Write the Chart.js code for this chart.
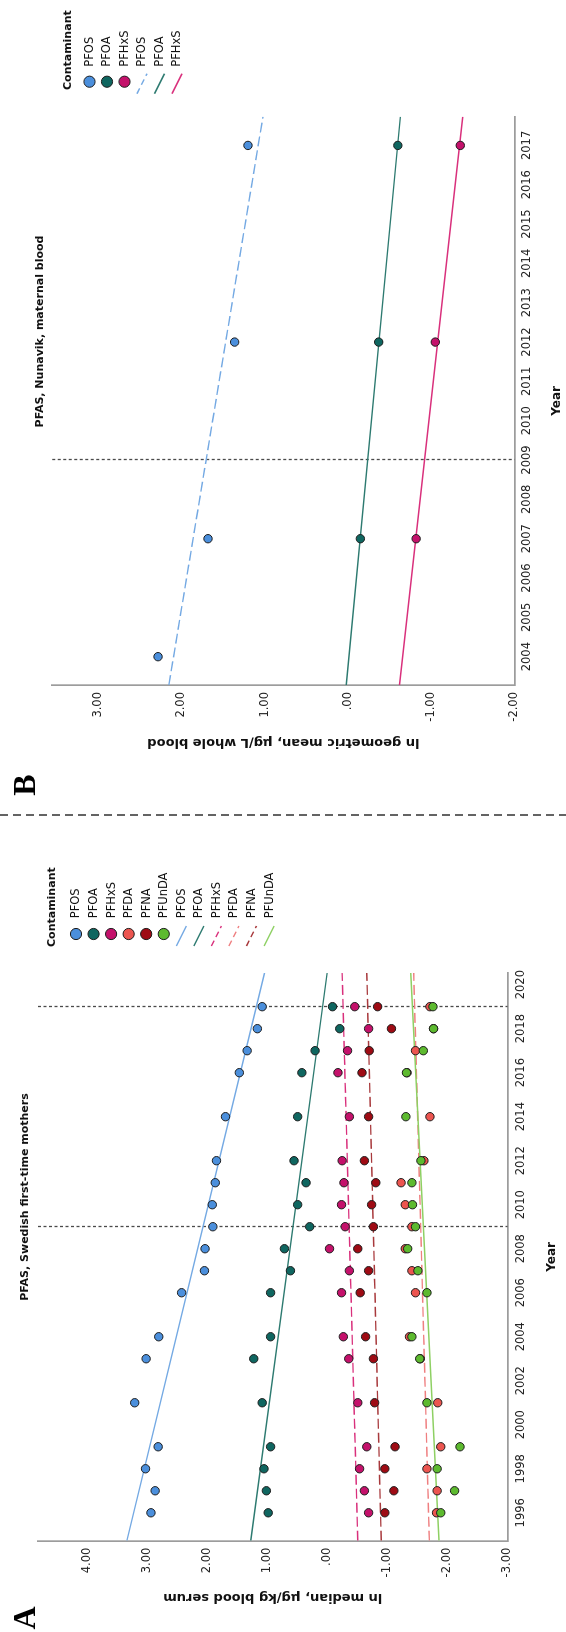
<!DOCTYPE html>
<html>
<head>
<meta charset="utf-8">
<title>PFAS time trends</title>
<script src="https://cdn.jsdelivr.net/npm/chart.js@4.4.1/dist/chart.umd.min.js"></script>
<style>
  html, body { margin: 0; padding: 0; background: #fff; overflow: hidden; }
  /* The figure is laid out in landscape and turned a quarter turn counter-clockwise. */
  #sheet {
    position: absolute; left: 0; top: 0;
    width: 1632px; height: 566px;
    background: #fff;
    transform-origin: 0 0;
    transform: translate(0, 1632px) rotate(-90deg);
  }
  #sheet canvas { position: absolute; top: 0; }
  #divider { position: absolute; left: 812px; top: 0; }
</style>
</head>
<body>
<div id="sheet">
  <canvas id="chartA" width="816" height="566" style="left:0"></canvas>
  <svg id="divider" width="10" height="566"><line x1="5" y1="0" x2="5" y2="566" stroke="#111" stroke-width="1.3" stroke-dasharray="8 5"/></svg>
  <canvas id="chartB" width="814" height="566" style="left:818px"></canvas>
</div>
<script>
// ---- Panel A: PFAS, Swedish first-time mothers (ln median, µg/kg blood serum) ----
const yearsA = [1996, 1997, 1998, 1999, 2001, 2003, 2004, 2006, 2007, 2008, 2009, 2010, 2011, 2012, 2014, 2016, 2017, 2018, 2019];
const pfosA   = [2.93, 2.86, 3.02, 2.81, 3.20, 3.01, 2.80, 2.42, 2.04, 2.03, 1.90, 1.91, 1.86, 1.84, 1.69, 1.46, 1.33, 1.16, 1.08];
const pfoaA   = [0.98, 1.01, 1.05, 0.94, 1.08, 1.22, 0.94, 0.94, 0.61, 0.71, 0.29, 0.49, 0.35, 0.55, 0.49, 0.42, 0.20, -0.21, -0.09];
const pfhxsA  = [-0.69, -0.62, -0.54, -0.66, -0.51, -0.36, -0.27, -0.24, -0.37, -0.04, -0.30, -0.24, -0.28, -0.25, -0.37, -0.18, -0.34, -0.69, -0.46];
const pfdaA   = [-1.82, -1.83, -1.66, -1.89, -1.84, -1.55, -1.37, -1.47, -1.41, -1.30, -1.41, -1.30, -1.23, -1.61, -1.71, -1.33, -1.47, -1.77, -1.71];
const pfnaA   = [-0.96, -1.11, -0.96, -1.13, -0.79, -0.77, -0.64, -0.55, -0.69, -0.51, -0.77, -0.74, -0.81, -0.62, -0.69, -0.58, -0.70, -1.07, -0.84];
const pfundaA = [-1.89, -2.12, -1.83, -2.21, -1.66, -1.54, -1.41, -1.66, -1.51, -1.34, -1.47, -1.42, -1.41, -1.56, -1.31, -1.32, -1.60, -1.77, -1.76];
// Linear fit, value at the first and last year of the axis: [start, end]
const fitPfosA   = [3.33, 1.04];
const fitPfoaA   = [1.27, 0.00];
const fitPfhxsA  = [-0.51, -0.25];
const fitPfdaA   = [-1.70, -1.44];
const fitPfnaA   = [-0.90, -0.66];
const fitPfundaA = [-1.86, -1.39];
const yearRangeA  = [1994.73, 2020.53];
const valueRangeA = [-3, 4.81];
const yearTicksA  = [1996, 1998, 2000, 2002, 2004, 2006, 2008, 2010, 2012, 2014, 2016, 2018, 2020];
const valueTicksA = [4, 3, 2, 1, 0, -1, -2, -3];
const breakYearsA = [2009, 2019];

// ---- Panel B: PFAS, Nunavik, maternal blood (ln geometric mean, µg/L whole blood) ----
const yearsB = [2004, 2007, 2012, 2017];
const pfosB  = [2.28, 1.68, 1.36, 1.20];
const pfoaB  = [null, -0.15, -0.37, -0.60];
const pfhxsB = [null, -0.82, -1.05, -1.35];
const fitPfosB  = [2.15, 1.02];
const fitPfoaB  = [0.02, -0.63];
const fitPfhxsB = [-0.62, -1.38];
const yearRangeB  = [2003.28, 2017.73];
const valueRangeB = [-2, 3.55];
const yearTicksB  = [2004, 2005, 2006, 2007, 2008, 2009, 2010, 2011, 2012, 2013, 2014, 2015, 2016, 2017];
const valueTicksB = [3, 2, 1, 0, -1, -2];
const breakYearsB = [2009];

// ---- Styling ----
const FONT = '"DejaVu Sans", "Liberation Sans", sans-serif';
const STYLE = {
  PFOS:   { point: '#4b8fdc', line: '#74a9e3' },
  PFOA:   { point: '#0f6660', line: '#2d7a70' },
  PFHxS:  { point: '#c4116b', line: '#d9307c' },
  PFDA:   { point: '#ec5550', line: '#ef7f80' },
  PFNA:   { point: '#9e0b14', line: '#a8393c' },
  PFUnDA: { point: '#5dba2f', line: '#8ed063' }
};

function series(name, values, fit, dashed) {
  return { name, values, fit, dashed, color: STYLE[name].point, lineColor: STYLE[name].line };
}

const seriesA = [
  series('PFOS', pfosA, fitPfosA, false),
  series('PFOA', pfoaA, fitPfoaA, false),
  series('PFHxS', pfhxsA, fitPfhxsA, true),
  series('PFDA', pfdaA, fitPfdaA, true),
  series('PFNA', pfnaA, fitPfnaA, true),
  series('PFUnDA', pfundaA, fitPfundaA, false)
];
const seriesB = [
  series('PFOS', pfosB, fitPfosB, true),
  series('PFOA', pfoaB, fitPfoaB, false),
  series('PFHxS', pfhxsB, fitPfhxsB, false)
];

// Dotted vertical reference lines at given years
const breakLines = {
  id: 'breakLines',
  beforeDatasetsDraw(chart, args, opts) {
    const { ctx, chartArea, scales } = chart;
    ctx.save();
    ctx.strokeStyle = '#4a4a4a';
    ctx.lineWidth = 1.3;
    ctx.setLineDash([3, 2.5]);
    (opts.years || []).forEach(yr => {
      const px = Math.round(scales.x.getPixelForValue(yr)) + 0.5;
      ctx.beginPath();
      ctx.moveTo(px, chartArea.top);
      ctx.lineTo(px, chartArea.bottom);
      ctx.stroke();
    });
    ctx.restore();
  }
};

// Panel letter, panel title and the "Contaminant" legend
const panelDecor = {
  id: 'panelDecor',
  afterDraw(chart, args, opts) {
    const ctx = chart.ctx;
    ctx.save();
    ctx.fillStyle = '#000';
    ctx.textAlign = 'center';
    ctx.textBaseline = 'alphabetic';
    ctx.font = 'bold 32px "Liberation Serif", "DejaVu Serif", serif';
    ctx.fillText(opts.letter, opts.letterX, opts.letterY);

    ctx.fillStyle = '#111';
    ctx.textBaseline = 'middle';
    ctx.font = 'bold 11px ' + FONT;
    ctx.fillText(opts.title, opts.titleX, opts.titleY);

    const lg = opts.legend;
    const list = opts.series;
    ctx.textAlign = 'left';
    ctx.font = 'bold 11px ' + FONT;
    ctx.fillText('Contaminant', lg.x, lg.titleY);
    ctx.font = '11.5px ' + FONT;
    list.forEach((s, i) => {
      const cy = lg.firstY + i * lg.step;
      ctx.beginPath();
      ctx.arc(lg.markX, cy, 5.6, 0, Math.PI * 2);
      ctx.fillStyle = s.color;
      ctx.fill();
      ctx.lineWidth = 1;
      ctx.strokeStyle = '#1c1c1c';
      ctx.stroke();
      ctx.fillStyle = '#111';
      ctx.fillText(s.name, lg.textX, cy + 0.5);
    });
    list.forEach((s, i) => {
      const cy = lg.firstY + (list.length + i) * lg.step;
      ctx.save();
      ctx.strokeStyle = s.lineColor;
      ctx.lineWidth = 1.4;
      ctx.setLineDash(s.dashed ? [6, 4] : []);
      ctx.beginPath();
      ctx.moveTo(lg.markX - 12, cy - 5);
      ctx.lineTo(lg.markX + 8, cy + 5);
      ctx.stroke();
      ctx.restore();
      ctx.fillStyle = '#111';
      ctx.fillText(s.name, lg.textX, cy + 0.5);
    });
    ctx.restore();
  }
};

function valueLabel(v) {
  return v === 0 ? '.00' : v.toFixed(2);
}

function panelChart(canvasId, p) {
  const pointSets = p.series.map((s, i) => ({
    type: 'scatter',
    label: s.name,
    data: p.years.map((yr, k) => ({ x: yr, y: s.values[k] })).filter(d => d.y !== null),
    pointRadius: 4.2,
    pointHoverRadius: 4.2,
    pointBackgroundColor: s.color,
    pointBorderColor: '#1c1c1c',
    pointBorderWidth: 1,
    showLine: false,
    order: 10 - i
  }));
  const fitSets = p.series.map((s, i) => ({
    type: 'line',
    label: s.name + ' fit',
    data: [{ x: p.yearRange[0], y: s.fit[0] }, { x: p.yearRange[1], y: s.fit[1] }],
    borderColor: s.lineColor,
    borderWidth: 1.4,
    borderDash: s.dashed ? [10, 4] : [],
    pointRadius: 0,
    fill: false,
    tension: 0,
    order: 30 - i
  }));

  return new Chart(document.getElementById(canvasId), {
    type: 'scatter',
    data: { datasets: [...fitSets, ...pointSets] },
    options: {
      responsive: false,
      animation: false,
      events: [],
      layout: { autoPadding: false, padding: { left: 0, top: p.padTop, right: p.padRight, bottom: 0 } },
      scales: {
        x: {
          type: 'linear',
          min: p.yearRange[0],
          max: p.yearRange[1],
          afterBuildTicks: sc => { sc.ticks = p.yearTicks.map(v => ({ value: v })); },
          afterFit: sc => { sc.height = p.xAxisHeight; },
          ticks: { autoSkip: false, maxRotation: 0, padding: p.xTickPad, color: '#222', font: { family: FONT, size: 11.5 }, callback: v => String(v) },
          grid: { display: false, drawTicks: false },
          border: { display: true, color: '#9c9c9c', width: 1.7 },
          title: { display: true, text: 'Year', color: '#111', font: { family: FONT, size: 12, weight: 'bold' }, padding: { top: 0, bottom: p.xTitlePad } }
        },
        y: {
          type: 'linear',
          min: p.valueRange[0],
          max: p.valueRange[1],
          afterBuildTicks: sc => { sc.ticks = p.valueTicks.map(v => ({ value: v })); },
          afterFit: sc => { sc.width = p.yAxisWidth; },
          ticks: { autoSkip: false, padding: 7, color: '#222', font: { family: FONT, size: 11.5 }, callback: v => valueLabel(v) },
          grid: { display: false, drawTicks: false },
          border: { display: true, color: '#9c9c9c', width: 1.7 },
          title: { display: true, text: p.yTitle, color: '#111', font: { family: FONT, size: 13, weight: 'bold' }, padding: { top: p.yTitlePad, bottom: 0 } }
        }
      },
      plugins: {
        legend: { display: false },
        tooltip: { enabled: false },
        breakLines: { years: p.breakYears },
        panelDecor: {
          letter: p.letter, letterX: p.letterX, letterY: 34.5,
          title: p.title, titleX: p.titleX, titleY: p.titleY,
          series: p.series,
          legend: p.legend
        }
      }
    },
    plugins: [breakLines, panelDecor]
  });
}

panelChart('chartA', {
  years: yearsA, series: seriesA,
  yearRange: yearRangeA, valueRange: valueRangeA,
  yearTicks: yearTicksA, valueTicks: valueTicksA, breakYears: breakYearsA,
  yTitle: 'ln median, µg/kg blood serum',
  title: 'PFAS, Swedish first-time mothers',
  letter: 'A', letterX: 14,
  titleX: 435, titleY: 25.5,
  padTop: 37.9, padRight: 157, yAxisWidth: 91.3, xAxisHeight: 58.5,
  xTickPad: 7, xTitlePad: 6.8, yTitlePad: 27.2,
  legend: { x: 685, titleY: 51.7, markX: 698, textX: 713.7, firstY: 76, step: 17.55 }
});

panelChart('chartB', {
  years: yearsB, series: seriesB,
  yearRange: yearRangeB, valueRange: valueRangeB,
  yearTicks: yearTicksB, valueTicks: valueTicksB, breakYears: breakYearsB,
  yTitle: 'ln geometric mean, µg/L whole blood',
  title: 'PFAS, Nunavik, maternal blood',
  letter: 'B', letterX: 29,
  titleX: 482.5, titleY: 40.5,
  padTop: 52.3, padRight: 116.7, yAxisWidth: 129, xAxisHeight: 51.6,
  xTickPad: 5.7, xTitlePad: 1.8, yTitlePad: 64.2,
  legend: { x: 724, titleY: 67.7, markX: 732.3, textX: 747.3, firstY: 89.5, step: 17.5 }
});
</script>
</body>
</html>
